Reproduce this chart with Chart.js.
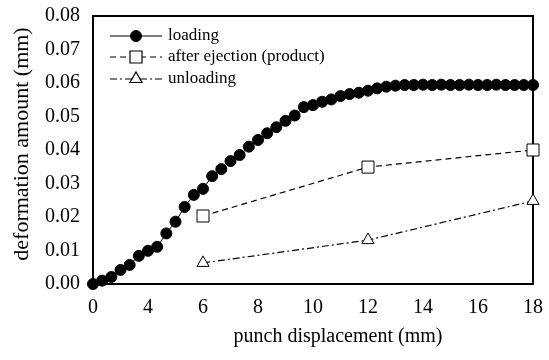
<!DOCTYPE html>
<html>
<head>
<meta charset="utf-8">
<script src="https://cdn.jsdelivr.net/npm/chart.js@4.4.1/dist/chart.umd.min.js"></script>
<style>
  html, body { margin: 0; padding: 0; background: #fff; }
  #wrap { width: 549px; height: 360px; }
</style>
</head>
<body>
<div id="wrap"><canvas id="myChart" width="549" height="360"></canvas></div>
<script>
// punch displacement (mm) - one category per measured point, as in the original sheet
const displacement = [
    0, 0.67, 1.33, 2, 2.67, 3.33,
    4, 4.33, 4.67, 5, 5.33, 5.67,
    6, 6.33, 6.67, 7, 7.33, 7.67,
    8, 8.33, 8.67, 9, 9.33, 9.67,
    10, 10.33, 10.67, 11, 11.33, 11.67,
    12, 12.33, 12.67, 13, 13.33, 13.67,
    14, 14.33, 14.67, 15, 15.33, 15.67,
    16, 16.33, 16.67, 17, 17.33, 17.67,
    18
];

const loading = [
    0.0000, 0.0010, 0.0021, 0.0042, 0.0057, 0.0084,
    0.0099, 0.0111, 0.0151, 0.0186, 0.0230, 0.0266,
    0.0284, 0.0322, 0.0343, 0.0367, 0.0385, 0.0410,
    0.0430, 0.0450, 0.0468, 0.0487, 0.0503, 0.0528,
    0.0534, 0.0544, 0.0551, 0.0561, 0.0567, 0.0571,
    0.0577, 0.0584, 0.0589, 0.0592, 0.0594, 0.0594,
    0.0595, 0.0594, 0.0595, 0.0594, 0.0594, 0.0595,
    0.0594, 0.0594, 0.0595, 0.0594, 0.0594, 0.0594,
    0.0594
];

const sparseX = ['6', '12', '18'];
const afterEjection = [0.0203, 0.0349, 0.0400];
const unloading = [0.0063, 0.0131, 0.0248];

const xTickLabels = ['0', '4', '6', '8', '10', '12', '14', '16', '18'];
const yTicks = [0, 0.01, 0.02, 0.03, 0.04, 0.05, 0.06, 0.07, 0.08];

const xTitle = 'punch displacement (mm)';
const yTitle = 'deformation amount (mm)';

const FONT = "'Liberation Serif', 'Times New Roman', serif";
const canvas = document.getElementById('myChart');

const frame = {
    id: 'frame',
    beforeDatasetsDraw(chart) {
        const { ctx, chartArea: a } = chart;
        ctx.save();
        ctx.strokeStyle = '#000';
        ctx.lineWidth = 2;
        ctx.strokeRect(a.left, a.top, a.right - a.left, a.bottom - a.top);
        ctx.restore();
    }
};

// axis titles sit off-centre in the original, so they are placed by hand
const axisTitles = {
    id: 'axisTitles',
    afterDraw(chart) {
        const { ctx } = chart;
        ctx.save();
        ctx.fillStyle = '#000';
        ctx.textAlign = 'center';
        ctx.textBaseline = 'middle';
        ctx.font = '20px ' + FONT;
        ctx.fillText(xTitle, 338, 337);
        ctx.translate(22, 144);
        ctx.rotate(-Math.PI / 2);
        ctx.font = '22px ' + FONT;
        ctx.fillText(yTitle, 0, 0);
        ctx.restore();
    }
};

// legend drawn inside the plot: line sample with marker, then label
const insideLegend = {
    id: 'insideLegend',
    afterDraw(chart) {
        const { ctx } = chart;
        const rows = [36, 57, 79];
        ctx.save();
        chart.data.datasets.forEach((ds, i) => {
            const y = rows[i];
            ctx.strokeStyle = '#000';
            ctx.lineWidth = ds.borderWidth;
            ctx.setLineDash(ds.borderDash || []);
            ctx.beginPath();
            ctx.moveTo(110, y);
            ctx.lineTo(162, y);
            ctx.stroke();
            ctx.setLineDash([]);
            ctx.fillStyle = ds.pointBackgroundColor;
            ctx.strokeStyle = '#000';
            Chart.helpers.drawPoint(ctx, {
                pointStyle: ds.pointStyle,
                radius: ds.pointRadius,
                rotation: 0,
                borderWidth: 1
            }, 136, y);
            ctx.fillStyle = '#000';
            ctx.font = '17px ' + FONT;
            ctx.textBaseline = 'middle';
            ctx.textAlign = 'left';
            ctx.fillText(ds.label, 168, y);
        });
        ctx.restore();
    }
};

new Chart(canvas, {
    type: 'line',
    data: {
        labels: displacement.map(String),
        datasets: [
            {
                label: 'loading',
                data: loading,
                borderColor: '#000',
                borderWidth: 1,
                pointStyle: 'circle',
                pointRadius: 5.5,
                pointBackgroundColor: '#000',
                pointBorderColor: '#000',
                pointBorderWidth: 1,
                tension: 0,
                clip: false
            },
            {
                label: 'after ejection (product)',
                data: sparseX.map((x, i) => ({ x: x, y: afterEjection[i] })),
                borderColor: '#000',
                borderWidth: 1.2,
                borderDash: [6, 4],
                pointStyle: 'rect',
                pointRadius: 8.5,
                pointBackgroundColor: '#fff',
                pointBorderColor: '#000',
                pointBorderWidth: 1,
                tension: 0,
                clip: false
            },
            {
                label: 'unloading',
                data: sparseX.map((x, i) => ({ x: x, y: unloading[i] })),
                borderColor: '#000',
                borderWidth: 1.2,
                borderDash: [7, 3, 2, 3],
                pointStyle: 'triangle',
                pointRadius: 7,
                pointBackgroundColor: '#fff',
                pointBorderColor: '#000',
                pointBorderWidth: 1,
                tension: 0,
                clip: false
            }
        ]
    },
    options: {
        responsive: false,
        animation: false,
        layout: { padding: { top: 16, right: 16, left: 0, bottom: 0 } },
        plugins: {
            legend: { display: false },
            tooltip: { enabled: false }
        },
        scales: {
            x: {
                type: 'category',
                offset: false,
                grid: { display: false, drawTicks: false },
                border: { display: false },
                ticks: {
                    autoSkip: false,
                    maxRotation: 0,
                    padding: 12,
                    color: '#000',
                    font: { family: FONT, size: 20 },
                    callback: (val, idx) => idx % 6 === 0 ? xTickLabels[idx / 6] : ''
                },
                afterFit: (s) => {
                    s.height = 76;
                    s.paddingLeft = 0;
                    s.paddingRight = 0;
                }
            },
            y: {
                min: 0,
                max: 0.08,
                grid: { display: false, drawTicks: false },
                border: { display: false },
                afterBuildTicks: (s) => { s.ticks = yTicks.map(v => ({ value: v })); },
                ticks: {
                    padding: 13,
                    color: '#000',
                    font: { family: FONT, size: 20 },
                    callback: (v) => Number(v).toFixed(2)
                },
                afterFit: (s) => {
                    s.width = 93;
                    s.paddingTop = 0;
                    s.paddingBottom = 0;
                }
            }
        }
    },
    plugins: [frame, axisTitles, insideLegend]
});
</script>
</body>
</html>
